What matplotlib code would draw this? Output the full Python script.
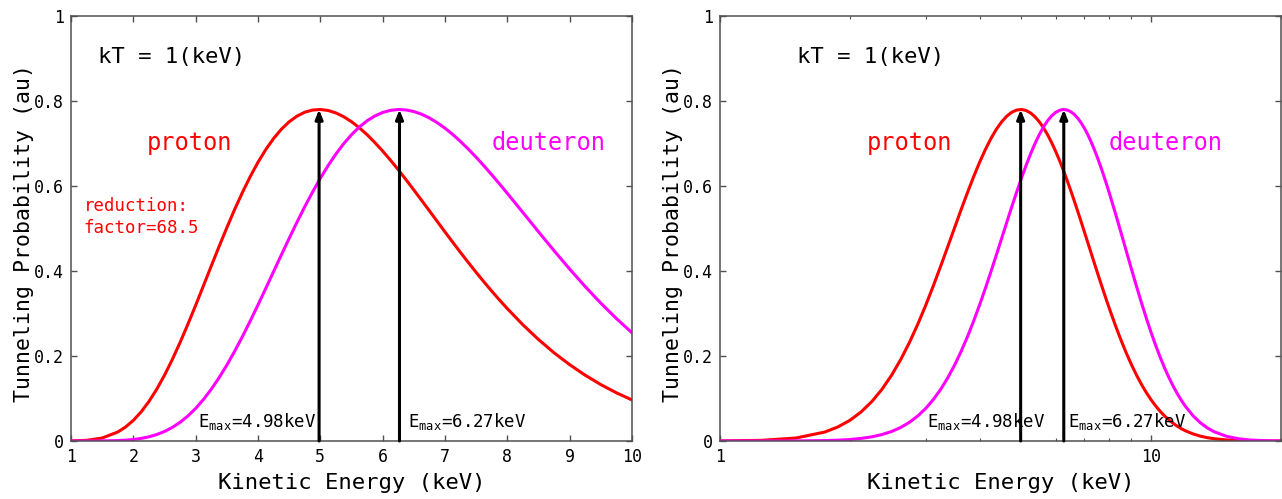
import matplotlib
matplotlib.use('Agg')
import matplotlib.pyplot as plt
from matplotlib.ticker import FixedLocator, FixedFormatter, LogLocator, NullFormatter

# energy grid (keV) and tunneling probability
energy = [1, 1.25, 1.5, 1.75, 1.875, 2, 2.125, 2.25, 2.375, 2.5, 2.625, 2.75,
          2.875, 3, 3.125, 3.25, 3.375, 3.5, 3.625, 3.75, 3.875, 4, 4.125,
          4.25, 4.375, 4.5, 4.625, 4.75, 4.875, 5, 5.125, 5.25, 5.375, 5.5,
          5.625, 5.75, 5.875, 6, 6.125, 6.25, 6.375, 6.5, 6.625, 6.75, 6.875,
          7, 7.125, 7.25, 7.375, 7.5, 7.625, 7.75, 7.875, 8, 8.25, 8.5, 8.75,
          9, 9.25, 9.5, 9.75, 10, 10.25, 10.5, 10.75, 11, 11.25, 11.5, 11.75,
          12, 12.5, 13, 13.5, 14, 15, 16, 17, 18, 19, 20]
proton = [0.0002, 0.0016, 0.0070, 0.0211, 0.0329, 0.0485, 0.0685, 0.0929,
          0.1217, 0.1548, 0.1917, 0.2319, 0.2747, 0.3193, 0.3654, 0.4117,
          0.4574, 0.5019, 0.5447, 0.5848, 0.6220, 0.6559, 0.6858, 0.7118,
          0.7336, 0.7511, 0.7644, 0.7736, 0.7787, 0.7800, 0.7777, 0.7719,
          0.7630, 0.7513, 0.7371, 0.7207, 0.7022, 0.6822, 0.6608, 0.6383,
          0.6147, 0.5907, 0.5662, 0.5415, 0.5167, 0.4919, 0.4675, 0.4434,
          0.4198, 0.3967, 0.3743, 0.3526, 0.3316, 0.3114, 0.2734, 0.2388,
          0.2075, 0.1796, 0.1547, 0.1327, 0.1134, 0.0966, 0.0820, 0.0694,
          0.0586, 0.0493, 0.0414, 0.0347, 0.0289, 0.0241, 0.0167, 0.0114,
          0.0078, 0.0053, 0.0024, 0.0010, 0.0005, 0.0002, 0.0001, 0.0000]
deuteron = [0.0000, 0.0000, 0.0002, 0.0010, 0.0019, 0.0035, 0.0061, 0.0098,
            0.0152, 0.0224, 0.0319, 0.0440, 0.0589, 0.0767, 0.0977, 0.1217,
            0.1488, 0.1786, 0.2111, 0.2457, 0.2823, 0.3203, 0.3592, 0.3987,
            0.4380, 0.4769, 0.5147, 0.5513, 0.5857, 0.6182, 0.6481, 0.6753,
            0.6996, 0.7207, 0.7387, 0.7534, 0.7648, 0.7730, 0.7780, 0.7800,
            0.7790, 0.7752, 0.7689, 0.7600, 0.7490, 0.7360, 0.7211, 0.7046,
            0.6867, 0.6676, 0.6474, 0.6265, 0.6048, 0.5827, 0.5376, 0.4923,
            0.4477, 0.4045, 0.3632, 0.3243, 0.2881, 0.2546, 0.2240, 0.1962,
            0.1711, 0.1487, 0.1287, 0.1111, 0.0955, 0.0818, 0.0596, 0.0430,
            0.0307, 0.0217, 0.0106, 0.0050, 0.0023, 0.0011, 0.0005, 0.0002]

e_max = [4.98, 6.27]
peak_height = 0.78
emax_labels = [r'E$_{\mathrm{max}}$=4.98keV', r'E$_{\mathrm{max}}$=6.27keV']

yticks = [0, 0.2, 0.4, 0.6, 0.8, 1.0]
ytick_labels = ['0', '0.2', '0.4', '0.6', '0.8', '1']
lin_xticks = [1, 2, 3, 4, 5, 6, 7, 8, 9, 10]

plt.rcParams['font.family'] = ['DejaVu Sans Mono']
plt.rcParams['mathtext.fontset'] = 'custom'
plt.rcParams['mathtext.rm'] = 'DejaVu Sans Mono'
plt.rcParams['mathtext.it'] = 'DejaVu Sans Mono'

spine_col = '#505050'
RED = '#ff0000'
MAG = '#ff00ff'

fig = plt.figure(figsize=(12.82, 4.99), dpi=100)
ax1 = fig.add_axes([71 / 1282, 1 - 441 / 499, 561 / 1282, 425 / 499])
ax2 = fig.add_axes([720 / 1282, 1 - 441 / 499, 561 / 1282, 425 / 499])


def style_axes(ax):
    for s in ax.spines.values():
        s.set_color(spine_col)
        s.set_linewidth(1.1)
    ax.tick_params(which='both', direction='in', top=True, right=True,
                   color=spine_col, labelsize=12, labelcolor='black')
    ax.tick_params(which='major', length=4, width=1, pad=5)
    ax.tick_params(which='minor', length=2.5, width=0.8)
    ax.set_ylim(0, 1)
    ax.yaxis.set_major_locator(FixedLocator(yticks))
    ax.yaxis.set_major_formatter(FixedFormatter(ytick_labels))
    ax.set_ylabel('Tunneling Probability (au)', fontsize=15.5)
    ax.yaxis.set_label_coords(-0.066, 0.49)
    ax.set_xlabel('Kinetic Energy (keV)', fontsize=16)
    ax.xaxis.set_label_coords(0.5, -0.075)


def draw_common(ax):
    ax.plot(energy, proton, color=RED, lw=2.2, solid_joinstyle='round')
    ax.plot(energy, deuteron, color=MAG, lw=2.2, solid_joinstyle='round')
    for e in e_max:
        ax.annotate('', xy=(e, peak_height), xytext=(e, 0),
                    arrowprops=dict(arrowstyle='-|>,head_length=0.55,head_width=0.22',
                                    color='black', lw=2.2, shrinkA=0, shrinkB=0))


# left panel: linear energy axis
draw_common(ax1)
style_axes(ax1)
ax1.set_xlim(1, 10)
ax1.xaxis.set_major_locator(FixedLocator(lin_xticks))
ax1.text(1.43, 0.904, 'kT = 1(keV)', fontsize=16, va='center')
ax1.text(2.21, 0.701, 'proton', fontsize=17, color=RED, va='center')
ax1.text(7.74, 0.701, 'deuteron', fontsize=17, color=MAG, va='center')
ax1.text(1.2, 0.527, 'reduction:\nfactor=68.5', fontsize=12.5, color=RED,
         va='center', linespacing=1.25)
ax1.text(4.93, 0.045, emax_labels[0], fontsize=12.5, ha='right', va='center')
ax1.text(6.4, 0.045, emax_labels[1], fontsize=12.5, ha='left', va='center')

# right panel: log energy axis
draw_common(ax2)
style_axes(ax2)
ax2.set_xscale('log')
ax2.set_xlim(1, 20)
ax2.xaxis.set_major_locator(FixedLocator([1, 10]))
ax2.xaxis.set_major_formatter(FixedFormatter(['1', '10']))
ax2.xaxis.set_minor_locator(LogLocator(base=10, subs=range(2, 10)))
ax2.xaxis.set_minor_formatter(NullFormatter())
ax2.text(1.51, 0.904, 'kT = 1(keV)', fontsize=16, va='center')
ax2.text(2.19, 0.701, 'proton', fontsize=17, color=RED, va='center')
ax2.text(7.95, 0.701, 'deuteron', fontsize=17, color=MAG, va='center')
ax2.text(3.02, 0.045, emax_labels[0], fontsize=12.5, ha='left', va='center')
ax2.text(6.42, 0.045, emax_labels[1], fontsize=12.5, ha='left', va='center')

fig.savefig('out.png', dpi=100)
